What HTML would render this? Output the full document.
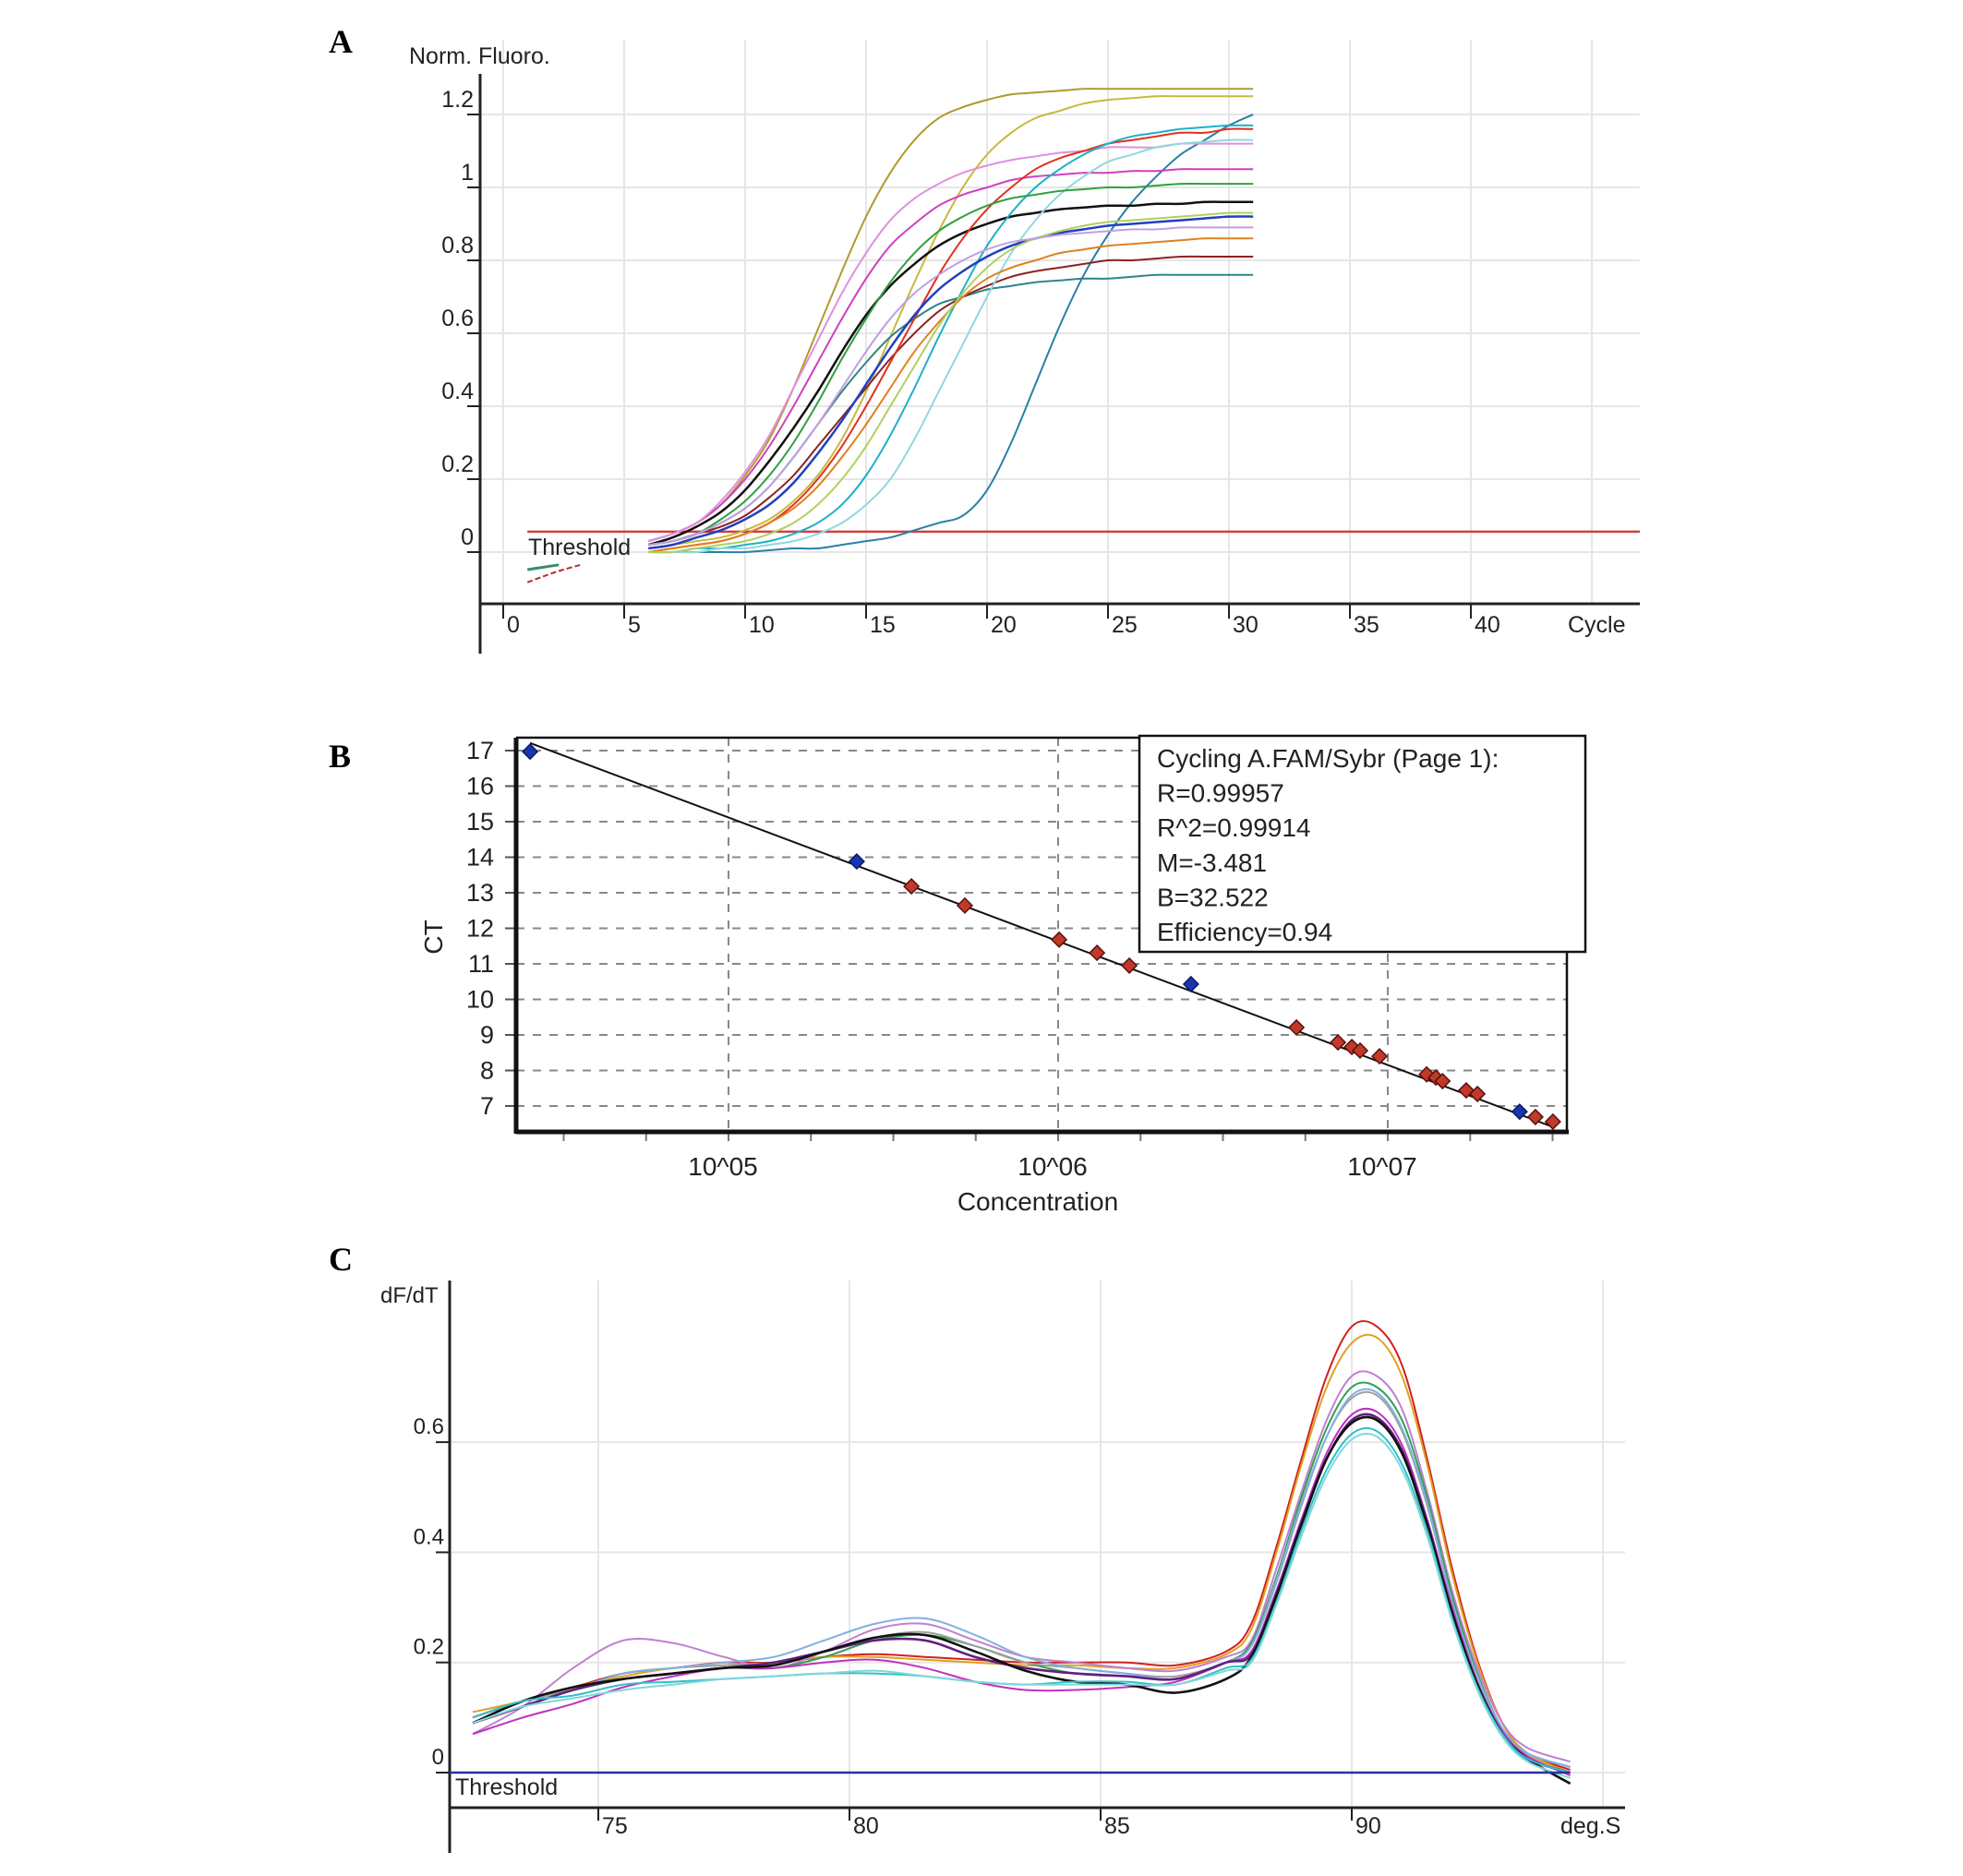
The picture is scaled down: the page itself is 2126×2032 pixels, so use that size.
<!DOCTYPE html>
<html><head><meta charset="utf-8"><style>
html,body{margin:0;padding:0;background:#fff;}
svg{display:block;font-family:"Liberation Sans",Arial,sans-serif;}
</style></head><body>
<svg id="fig" width="2126" height="2032" viewBox="0 0 2126 2032" xmlns="http://www.w3.org/2000/svg">
<rect width="2126" height="2032" fill="#fff"/>
<text x="356" y="57" font-family="Liberation Serif,serif" font-weight="bold" font-size="36">A</text>
<text x="356" y="831" font-family="Liberation Serif,serif" font-weight="bold" font-size="36">B</text>
<text x="356" y="1376" font-family="Liberation Serif,serif" font-weight="bold" font-size="36">C</text>
<g id="pa"></g>
<g id="pb"></g>
<g id="pc"></g>
</svg>
<script>
const NS="http://www.w3.org/2000/svg";
// ---------- Panel A data ----------
const cyclesA=[6,7,8,9,10,11,12,13,14,15,16,17,18,19,20,21,22,23,24,25,26,27,28,29,30,31];
const colorsA=["#b09a30","#c8b840","#2a7fa8","#2f8585","#8b2222","#111111","#d040c0","#e090e0","#e03020","#20b0c8","#90d8e0","#2040c0","#30a040","#e08020","#b0d060","#c0a0e0"];
const seriesA=[
[.03,.05,.08,.13,.21,.31,.45,.61,.77,.92,1.04,1.13,1.19,1.22,1.24,1.255,1.26,1.265,1.27,1.27,1.27,1.27,1.27,1.27,1.27,1.27],
[.01,.02,.03,.04,.06,.09,.14,.21,.31,.44,.59,.74,.88,1.00,1.09,1.15,1.19,1.21,1.23,1.24,1.245,1.25,1.25,1.25,1.25,1.25],
[0,0,0,0,0,.005,.01,.01,.02,.03,.04,.06,.08,.10,.17,.30,.46,.62,.76,.87,.96,1.03,1.09,1.13,1.17,1.20],
[.02,.03,.05,.08,.12,.18,.26,.35,.44,.52,.59,.64,.68,.70,.72,.73,.74,.745,.75,.75,.755,.76,.76,.76,.76,.76],
[.02,.03,.05,.07,.10,.15,.21,.29,.37,.45,.53,.60,.66,.70,.73,.755,.77,.78,.79,.80,.80,.805,.81,.81,.81,.81],
[.02,.04,.07,.11,.17,.25,.34,.44,.55,.65,.73,.79,.84,.875,.90,.92,.93,.94,.945,.95,.95,.955,.955,.96,.96,.96],
[.03,.05,.08,.13,.20,.29,.40,.52,.64,.75,.84,.90,.95,.98,1.00,1.02,1.03,1.035,1.04,1.04,1.045,1.045,1.05,1.05,1.05,1.05],
[.03,.05,.08,.14,.22,.32,.45,.58,.71,.82,.91,.97,1.01,1.04,1.06,1.075,1.085,1.095,1.10,1.11,1.11,1.11,1.12,1.12,1.12,1.12],
[0,.01,.02,.03,.05,.08,.13,.20,.29,.40,.52,.64,.76,.86,.94,1.00,1.05,1.08,1.10,1.12,1.13,1.14,1.15,1.15,1.16,1.16],
[0,0,.01,.01,.02,.03,.05,.08,.13,.21,.32,.45,.59,.72,.84,.93,1.00,1.05,1.09,1.12,1.14,1.15,1.16,1.165,1.17,1.17],
[0,0,0,.01,.01,.02,.03,.05,.08,.13,.20,.31,.44,.57,.70,.82,.91,.98,1.03,1.07,1.09,1.11,1.12,1.125,1.13,1.13],
[.01,.02,.04,.06,.09,.13,.19,.27,.36,.46,.56,.65,.72,.77,.81,.84,.86,.875,.885,.895,.90,.905,.91,.915,.92,.92],
[.02,.03,.05,.09,.14,.21,.30,.41,.53,.64,.74,.82,.88,.92,.95,.97,.98,.99,.995,1.0,1.0,1.005,1.01,1.01,1.01,1.01],
[0,.01,.02,.03,.05,.08,.12,.18,.26,.35,.45,.55,.63,.70,.75,.78,.80,.82,.83,.84,.845,.85,.855,.86,.86,.86],
[0,0,.01,.02,.03,.05,.08,.13,.20,.29,.40,.51,.62,.71,.78,.83,.86,.88,.895,.905,.91,.915,.92,.925,.93,.93],
[.02,.03,.05,.08,.12,.18,.26,.35,.45,.55,.64,.71,.76,.80,.83,.85,.86,.87,.875,.88,.885,.885,.89,.89,.89,.89]
];
const earlyCycles=[1,1.6,2.3,3.2];
const earlyTeal=[-0.048,-0.042,-0.035,null];
const earlyRed=[-0.083,-0.068,-0.052,-0.035];
const thresholdA=0.056;
const yTicksA=[0,0.2,0.4,0.6,0.8,1,1.2];
const yTickLabelsA=["0","0.2","0.4","0.6","0.8","1","1.2"];
const xTicksA=[0,5,10,15,20,25,30,35,40];
// ---------- Panel B data ----------
const logConcB=[4.398,5.389,5.555,5.717,6.003,6.118,6.216,6.403,6.723,6.849,6.891,6.916,6.975,7.118,7.146,7.166,7.238,7.272,7.40,7.448,7.501];
const ctB=[16.97,13.88,13.18,12.64,11.68,11.31,10.95,10.43,9.21,8.79,8.66,8.56,8.40,7.89,7.80,7.70,7.44,7.34,6.84,6.69,6.56];
const kindB=["std","std","unk","unk","unk","unk","unk","std","unk","unk","unk","unk","unk","unk","unk","unk","unk","unk","std","unk","unk"];
const fitM=-3.481, fitB=32.522;
const yTicksB=[7,8,9,10,11,12,13,14,15,16,17];
const xDecadesB=[5,6,7];
const xDecadeLabelsB=["10^05","10^06","10^07"];
const legendLinesB=["Cycling A.FAM/Sybr (Page 1):","R=0.99957","R^2=0.99914","M=-3.481","B=32.522","Efficiency=0.94"];
// ---------- Panel C data ----------
const tempsC=[72.5,73.5,74.5,75.5,76.5,77.5,78.5,79.5,80.5,81.5,82.5,83.5,84.5,85.5,86.5,87.5,88,88.5,89,89.5,90,90.5,91,91.5,92,92.5,93,93.5,94.35];
const colorsC=["#d02020","#e0a020","#c080d0","#30a050","#a0a0a0","#80b0e0","#c030c0","#602080","#111111","#30c0c8","#80d8d8"];
const seriesC=[
[.10,.13,.155,.18,.19,.20,.20,.21,.215,.21,.205,.20,.20,.20,.195,.22,.27,.41,.57,.72,.81,.81,.74,.57,.37,.205,.09,.035,.005],
[.11,.13,.155,.175,.19,.195,.20,.21,.21,.205,.20,.195,.195,.19,.19,.215,.26,.40,.56,.70,.78,.79,.72,.56,.36,.20,.09,.035,0],
[.07,.12,.19,.24,.235,.21,.19,.22,.26,.27,.24,.21,.20,.19,.185,.21,.24,.37,.51,.64,.72,.72,.66,.51,.33,.19,.09,.045,.02],
[.10,.13,.15,.17,.18,.19,.19,.21,.24,.25,.23,.20,.18,.175,.17,.20,.235,.355,.50,.625,.70,.70,.64,.50,.32,.18,.08,.035,.01],
[.10,.13,.15,.18,.19,.195,.20,.22,.245,.255,.23,.20,.19,.18,.175,.20,.23,.345,.485,.61,.68,.685,.62,.485,.31,.175,.08,.035,.01],
[.09,.12,.15,.18,.19,.20,.21,.24,.27,.28,.25,.21,.19,.18,.17,.20,.23,.35,.49,.61,.685,.69,.625,.49,.31,.175,.08,.035,.01],
[.07,.10,.125,.155,.175,.19,.19,.20,.205,.19,.165,.15,.15,.155,.165,.20,.22,.33,.46,.58,.65,.655,.595,.46,.30,.165,.075,.03,-.005],
[.09,.12,.15,.17,.18,.19,.20,.22,.24,.24,.21,.19,.18,.175,.17,.20,.215,.325,.455,.57,.64,.645,.585,.455,.29,.16,.07,.025,0],
[.09,.13,.155,.17,.18,.19,.195,.22,.245,.25,.22,.185,.165,.16,.145,.17,.21,.32,.45,.57,.635,.64,.58,.45,.29,.16,.07,.025,-.02],
[.10,.13,.14,.16,.165,.17,.175,.18,.18,.175,.165,.16,.165,.165,.16,.19,.205,.31,.44,.55,.615,.62,.56,.44,.28,.155,.07,.025,0],
[.09,.12,.135,.15,.16,.17,.175,.18,.185,.175,.165,.16,.16,.16,.16,.185,.20,.305,.43,.54,.605,.61,.55,.43,.275,.15,.065,.02,-.01]
];
const yTicksC=[0,0.2,0.4,0.6];
const yTickLabelsC=["0","0.2","0.4","0.6"];
const xTicksC=[75,80,85,90];
const thresholdC=0;

// ---------- helpers ----------
function el(parent,tag,attrs,text){const e=document.createElementNS(NS,tag);for(const k in attrs)e.setAttribute(k,attrs[k]);if(text!==undefined)e.textContent=text;parent.appendChild(e);return e;}
function smooth(pts){
  let d="M"+pts[0][0].toFixed(1)+","+pts[0][1].toFixed(1);
  for(let i=0;i<pts.length-1;i++){
    const p0=pts[Math.max(0,i-1)],p1=pts[i],p2=pts[i+1],p3=pts[Math.min(pts.length-1,i+2)];
    const c1=[p1[0]+(p2[0]-p0[0])/6,p1[1]+(p2[1]-p0[1])/6],c2=[p2[0]-(p3[0]-p1[0])/6,p2[1]-(p3[1]-p1[1])/6];
    d+=" C"+c1[0].toFixed(1)+","+c1[1].toFixed(1)+" "+c2[0].toFixed(1)+","+c2[1].toFixed(1)+" "+p2[0].toFixed(1)+","+p2[1].toFixed(1);
  }
  return d;
}

// ---------- Panel A ----------
(function(){
const g=document.getElementById('pa');
const xA=c=>545+c*26.2, yA=v=>598-v*395;
const L=520,R=1776,T=43,AX=654;
for(const c of [0,5,10,15,20,25,30,35,40,45]){const l=el(g,'line',{x1:xA(c),x2:xA(c),y1:T,y2:AX,stroke:'#e6e6e6','stroke-width':2});

}
yTicksA.forEach((v,i)=>{
  const l=el(g,'line',{x1:L,x2:R,y1:yA(v),y2:yA(v),stroke:'#e6e6e6','stroke-width':2});
  
  
  const t=el(g,'line',{x1:L-14,x2:L,y1:yA(v),y2:yA(v),stroke:'#222','stroke-width':2});
  
  
  const tx=el(g,'text',{x:513,y:yA(v)-8,'text-anchor':'end','font-size':25,fill:'#222'},yTickLabelsA[i]);
  
  
});
const ax=el(g,'line',{x1:L,x2:R,y1:AX,y2:AX,stroke:'#222','stroke-width':3});


const ay=el(g,'line',{x1:L,x2:L,y1:80,y2:708,stroke:'#222','stroke-width':3});


xTicksA.forEach(c=>{
  const t=el(g,'line',{x1:xA(c),x2:xA(c),y1:AX,y2:AX+16,stroke:'#222','stroke-width':2});
  
  
  const tx=el(g,'text',{x:xA(c)+4,y:685,'font-size':25,fill:'#222'},String(c));
  
  
});
const cyc=el(g,'text',{x:1698,y:685,'font-size':25,fill:'#222'},'Cycle');


const yt=el(g,'text',{x:443,y:69,'font-size':25,fill:'#222'},'Norm. Fluoro.');


const th=el(g,'line',{x1:xA(1),x2:R,y1:yA(thresholdA),y2:yA(thresholdA),stroke:'#d04040','stroke-width':2.5});


const tt=el(g,'text',{x:572,y:601,'font-size':25,fill:'#222'},'Threshold');


const e1=el(g,'path',{d:smooth(earlyCycles.slice(0,3).map((c,i)=>[xA(c),yA(earlyTeal[i])])),fill:'none',stroke:'#3a8a70','stroke-width':3});


const e2=el(g,'path',{d:smooth(earlyCycles.map((c,i)=>[xA(c),yA(earlyRed[i])])),fill:'none',stroke:'#b03030','stroke-width':2,'stroke-dasharray':'6,3'});


seriesA.forEach((s,k)=>{
  const pts=cyclesA.map((c,i)=>[xA(c),yA(s[i])]);
  const p=el(g,'path',{d:smooth(pts),fill:'none',stroke:colorsA[k],'stroke-width':(k===5||k===11)?2.5:2});
  
  
});
})();

// ---------- Panel B ----------
(function(){
const g=document.getElementById('pb');
const xB=l=>1503+(l-7)*357, yB=ct=>813-(ct-17)*38.5;
const L=559,R=1697,T=799,B=1226;
el(g,'rect',{x:L,y:T,width:R-L,height:B-T,fill:'#fff'});
yTicksB.forEach(v=>{
  const l=el(g,'line',{x1:L,x2:R,y1:yB(v),y2:yB(v),stroke:'#888','stroke-width':2,'stroke-dasharray':'9,9'});
  
  
  const t=el(g,'line',{x1:L-12,x2:L,y1:yB(v),y2:yB(v),stroke:'#555','stroke-width':2});
  
  
  const tx=el(g,'text',{x:535,y:yB(v)+9,'text-anchor':'end','font-size':27,fill:'#222'},String(v));
  
  
});
xDecadesB.forEach((d,i)=>{
  const l=el(g,'line',{x1:xB(d),x2:xB(d),y1:T,y2:B,stroke:'#888','stroke-width':2,'stroke-dasharray':'9,9'});
  
  
  const tx=el(g,'text',{x:xB(d)-6,y:1273,'text-anchor':'middle','font-size':28,fill:'#222'},xDecadeLabelsB[i]);
  
  
});
for(let q=4.5;q<=7.5001;q+=0.25){
  const t=el(g,'line',{x1:xB(q),x2:xB(q),y1:B,y2:B+10,stroke:'#777','stroke-width':2});
  
  
}
const bx=el(g,'path',{d:`M${L},${T} H${R} V${B}`,fill:'none',stroke:'#111','stroke-width':2.5});


const la=el(g,'line',{x1:L,x2:L,y1:T,y2:B+2,stroke:'#111','stroke-width':5});


const lb=el(g,'line',{x1:L,x2:R+2,y1:B,y2:B,stroke:'#111','stroke-width':5});


const l0=logConcB[0],l1=logConcB[logConcB.length-1];
const fl=el(g,'line',{x1:xB(l0),y1:yB(fitM*l0+fitB),x2:xB(l1),y2:yB(fitM*l1+fitB),stroke:'#111','stroke-width':2});


logConcB.forEach((l,i)=>{
  const cx=xB(l),cy=yB(ctB[i]),r=8;
  const std=kindB[i]==='std';
  const p=el(g,'path',{d:`M${cx},${cy-r} L${cx+r},${cy} L${cx},${cy+r} L${cx-r},${cy} Z`,fill:std?'#1a35b0':'#c03a28',stroke:std?'#0a1a60':'#5a1010','stroke-width':1.5});
  
  
});
const lg=el(g,'rect',{x:1234,y:797,width:483,height:234,fill:'#fff',stroke:'#111','stroke-width':2.5});


legendLinesB.forEach((s,i)=>{
  const tx=el(g,'text',{x:1253,y:831+i*37.6,'font-size':28,fill:'#222'},s);
  
  
});
const xt=el(g,'text',{x:1124,y:1311,'text-anchor':'middle','font-size':28,fill:'#222'},'Concentration');


const yt=el(g,'text',{x:0,y:0,'text-anchor':'middle','font-size':28,fill:'#222',transform:'translate(479,1015) rotate(-90)'},'CT');


})();

// ---------- Panel C ----------
(function(){
const g=document.getElementById('pc');
const xC=t=>648+(t-75)*54.4, yC=v=>1920-v*596.5;
const L=487,R=1760,T=1387,AX=1958;
for(const t of [75,80,85,90,95]){const l=el(g,'line',{x1:xC(t),x2:xC(t),y1:T,y2:AX,stroke:'#e6e6e6','stroke-width':2});

}
yTicksC.forEach((v,i)=>{
  const l=el(g,'line',{x1:L,x2:R,y1:yC(v),y2:yC(v),stroke:'#e6e6e6','stroke-width':2});
  
  
  const t=el(g,'line',{x1:L-15,x2:L,y1:yC(v),y2:yC(v),stroke:'#222','stroke-width':2});
  
  
  const tx=el(g,'text',{x:481,y:yC(v)-9,'text-anchor':'end','font-size':24,fill:'#222'},yTickLabelsC[i]);
  
  
});
const ay=el(g,'line',{x1:L,x2:L,y1:T,y2:2007,stroke:'#222','stroke-width':3});


const ax=el(g,'line',{x1:L,x2:R,y1:AX,y2:AX,stroke:'#222','stroke-width':3});


xTicksC.forEach(t=>{
  const k=el(g,'line',{x1:xC(t),x2:xC(t),y1:AX,y2:AX+14,stroke:'#222','stroke-width':2});
  
  
  const tx=el(g,'text',{x:xC(t)+4,y:1986,'font-size':25,fill:'#222'},String(t));
  
  
});
const dg=el(g,'text',{x:1690,y:1986,'font-size':25,fill:'#222'},'deg.S');


el(g,'rect',{x:1761,y:1962,width:80,height:40,fill:'#fff'});
const yt=el(g,'text',{x:412,y:1411,'font-size':24,fill:'#222'},'dF/dT');


seriesC.forEach((s,k)=>{
  const pts=tempsC.map((t,i)=>[xC(t),yC(s[i])]);
  const p=el(g,'path',{d:smooth(pts),fill:'none',stroke:colorsC[k],'stroke-width':(k===8||k===7)?2.6:2});
  
  
});
const th=el(g,'line',{x1:L,x2:xC(94.35),y1:yC(thresholdC),y2:yC(thresholdC),stroke:'#3030a0','stroke-width':2.5});


const tt=el(g,'text',{x:493,y:1944,'font-size':25,fill:'#222'},'Threshold');


})();
</script>
</body></html>
